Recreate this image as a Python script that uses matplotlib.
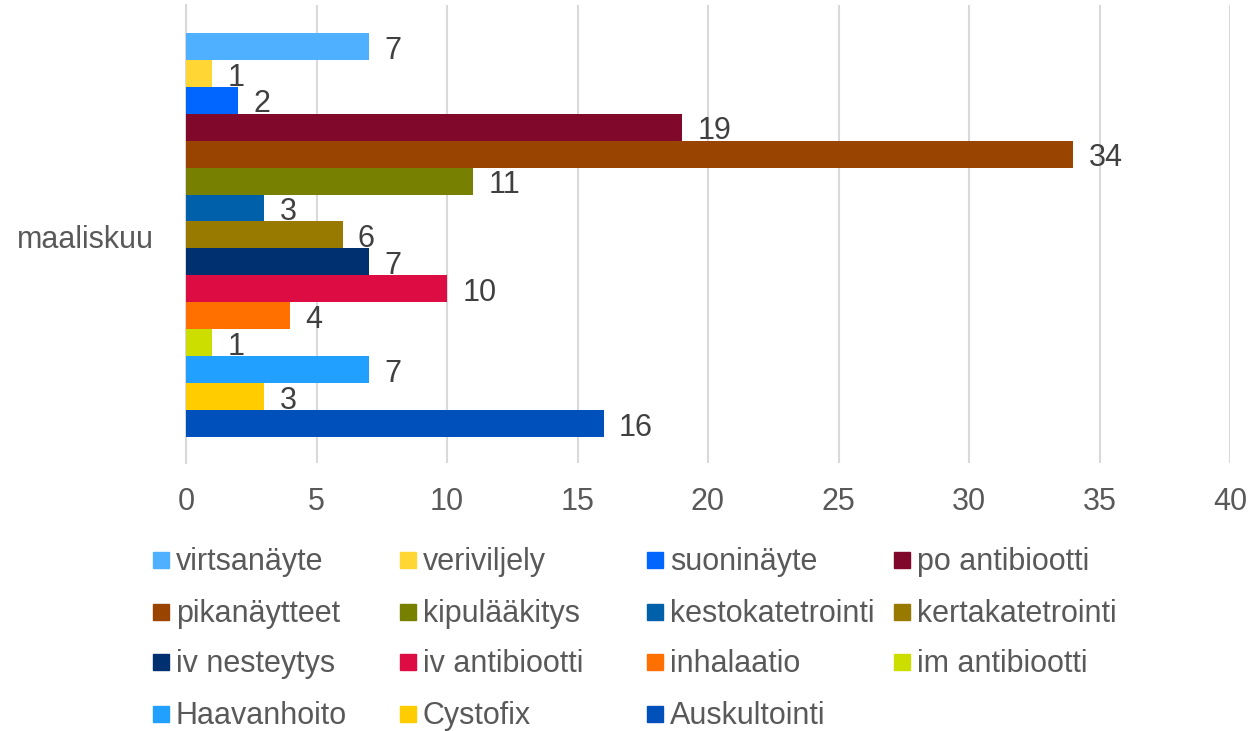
import matplotlib
matplotlib.use("Agg")
import matplotlib.pyplot as plt
from matplotlib.patches import Rectangle

plt.rcParams['font.family'] = ['Liberation Sans', 'DejaVu Sans']

# Data
kategoria = "maaliskuu"
sarjat = ["virtsanäyte", "veriviljely", "suoninäyte", "po antibiootti",
          "pikanäytteet", "kipulääkitys", "kestokatetrointi", "kertakatetrointi",
          "iv nesteytys", "iv antibiootti", "inhalaatio", "im antibiootti",
          "Haavanhoito", "Cystofix", "Auskultointi"]
arvot = [7, 1, 2, 19, 34, 11, 3, 6, 7, 10, 4, 1, 7, 3, 16]
varit = ["#4FB0FF", "#FFD633", "#0066FF", "#80082A",
         "#994400", "#778000", "#0060AA", "#997A00",
         "#003070", "#DD0D44", "#FF7000", "#CCDD00",
         "#22A0FF", "#FFCC00", "#0050BB"]
xtikit = [0, 5, 10, 15, 20, 25, 30, 35, 40]

FS = 22
W, H = 1252, 731
fig = plt.figure(figsize=(W / 100, H / 100), dpi=100)
ax = fig.add_axes([186 / W, 1 - 463 / H, (1230 - 186) / W, (463 - 5) / H])

n = len(arvot)
pos = list(range(n))
ax.barh(pos, arvot, height=1.0, color=varit, zorder=3)

# arvolaput palkkien perään
for i, v in enumerate(arvot):
    ax.annotate(str(v), (v, i), xytext=(11, -3), textcoords="offset points",
                ha="left", va="center", fontsize=FS, color="#404040", zorder=4)

ax.set_xlim(0, 40)
ax.set_ylim(n - 0.5 + 0.97, -0.5 - 1.04)
ax.set_xticks(xtikit)
ax.set_xticklabels([str(t) for t in xtikit], fontsize=FS, color="#595959")
ax.tick_params(axis="x", length=0, pad=17)
ax.set_yticks([])
ax.grid(axis="x", color="#D9D9D9", linewidth=1.5, zorder=0)
for s in ["top", "right", "bottom"]:
    ax.spines[s].set_visible(False)
ax.spines["left"].set_color("#D9D9D9")
ax.spines["left"].set_linewidth(1.5)

fig.text(85 / W, 1 - 240 / H, kategoria, ha="center", va="center",
         fontsize=FS, color="#595959")

# selite, 4 yhtä leveää saraketta
sarakkeet_x = [153, 400, 647, 894]
rivit_y = [560, 612, 662, 714]
for i, (nimi, vari) in enumerate(zip(sarjat, varit)):
    r, c = divmod(i, 4)
    x0 = sarakkeet_x[c]
    y0 = rivit_y[r]
    fig.patches.append(Rectangle((x0 / W, 1 - (y0 + 8) / H), 16 / W, 16 / H,
                                 transform=fig.transFigure, color=vari))
    fig.text((x0 + 23) / W, 1 - (y0 + 2) / H, nimi, ha="left", va="center",
             fontsize=FS, color="#595959")

fig.savefig("out.png", dpi=100)
